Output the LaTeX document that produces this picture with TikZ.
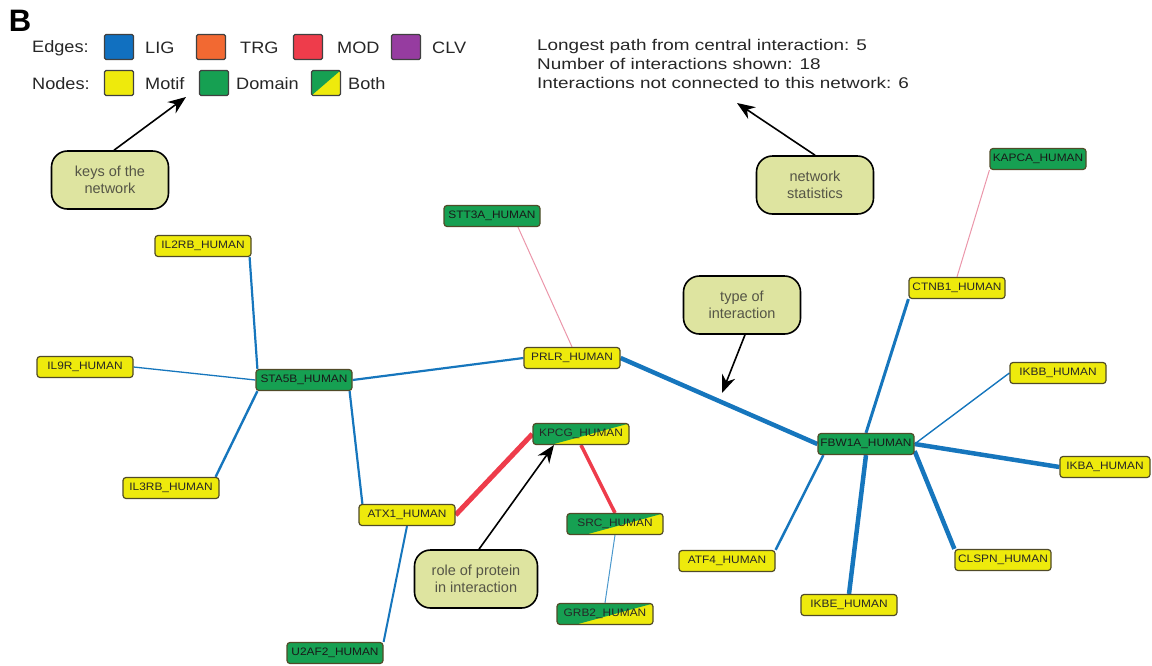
\documentclass[tikz,border=0pt]{standalone}
\usepackage{fontspec}
\setmainfont{Liberation Sans}
\newfontfamily\statsfont[FakeStretch=1.22]{Liberation Sans}
\newfontfamily\labfont[FakeStretch=1.1]{Liberation Sans}
\newfontfamily\legfont[FakeStretch=1.1]{Liberation Sans}
\usetikzlibrary{arrows.meta,calc,backgrounds}
\definecolor{ligB}{RGB}{22,118,189}
\definecolor{ligT}{RGB}{75,152,205}
\definecolor{modR}{RGB}{238,60,75}
\definecolor{pinkT}{RGB}{235,150,170}
\definecolor{trgO}{RGB}{242,105,50}
\definecolor{clvP}{RGB}{150,60,160}
\definecolor{legB}{RGB}{17,112,192}
\definecolor{motifY}{RGB}{238,234,12}
\definecolor{domG}{RGB}{22,160,82}
\definecolor{nodeBd}{RGB}{80,75,40}
\definecolor{calloutF}{RGB}{222,228,160}
\definecolor{calloutT}{RGB}{85,85,70}
\tikzset{
  prot/.style={draw=nodeBd, line width=1.2pt, rounded corners=3pt, minimum width=96pt,
    minimum height=21pt, inner sep=1pt, font=\labfont\fontsize{10.8}{12}\selectfont},
  motifnode/.style={prot, fill=motifY, text=black!85},
  domnode/.style={prot, fill=domG, text=black!90},
  bothnode/.style={prot, fill=motifY, text=black!85, path picture={
      \fill[domG] (path picture bounding box.north west) -- (path picture bounding box.north east)
        -- ($(path picture bounding box.south west)!0.2!(path picture bounding box.south east)$)
        -- (path picture bounding box.south west) -- cycle;}},
  callout/.style={draw=black, line width=1.6pt, fill=calloutF, rounded corners=16pt,
    minimum width=117pt, minimum height=58pt, align=center, text=calloutT,
    font=\fontsize{14.5}{17.5}\selectfont},
  ptr/.style={-{Stealth[length=18pt,width=14pt]}, line width=1.6pt},
  legsq/.style={draw=black!75, line width=1.2pt, rounded corners=1.5pt, minimum width=29pt,
    minimum height=25pt, inner sep=0pt},
  legtxt/.style={anchor=west, inner sep=0pt, text=black!85, font=\legfont\fontsize{16.5}{18}\selectfont},
  lig/.style={draw=ligB, line width=#1},
  ligthin/.style={draw=ligT, line width=#1},
  modedge/.style={draw=modR, line width=#1},
  pink/.style={draw=pinkT, line width=#1}
}
\begin{document}
\begin{tikzpicture}[x=1pt,y=-1pt]
\useasboundingbox (0,0) rectangle (1152,665);
% title letter
\node[font=\bfseries\fontsize{31}{31}\selectfont, inner sep=0pt] (B) at (20,21) {B};
% legend
\node[legtxt] (edgesL) at (32,48) {Edges:};
\node[legsq, fill=legB] (sqLIG) at (119,47) {};
\node[legtxt] (tLIG) at (145,48) {LIG};
\node[legsq, fill=trgO] (sqTRG) at (211,47) {};
\node[legtxt] (tTRG) at (240,48) {TRG};
\node[legsq, fill=modR] (sqMOD) at (308,47) {};
\node[legtxt] (tMOD) at (337,48) {MOD};
\node[legsq, fill=clvP] (sqCLV) at (406,47) {};
\node[legtxt] (tCLV) at (432,48) {CLV};
\node[legtxt] (nodesL) at (32,84) {Nodes:};
\node[legsq, fill=motifY] (sqMotif) at (119,83) {};
\node[legtxt] (tMotif) at (145,84) {Motif};
\node[legsq, fill=domG] (sqDomain) at (214,83) {};
\node[legtxt] (tDomain) at (236,84) {Domain};
\node[legsq, fill=motifY, path picture={\fill[domG] (path picture bounding box.north west) -- (path picture bounding box.north east) -- (path picture bounding box.south west) -- cycle;}] (sqBoth) at (326,83) {};
\node[legtxt] (tBoth) at (348,84) {Both};
% statistics
\node[anchor=north west, inner sep=0pt, align=left, text=black!85,
  font=\statsfont\fontsize{15.5}{19}\selectfont] (stats) at (537,39)
  {Longest path from central interaction: 5\\Number of interactions shown: 18\\Interactions not connected to this network: 6};
% protein nodes
\node[motifnode] (IL2RB) at (203,246) {IL2RB\_HUMAN};
\node[motifnode] (IL9R) at (85,367) {IL9R\_HUMAN};
\node[domnode] (STA5B) at (304,380) {STA5B\_HUMAN};
\node[motifnode] (IL3RB) at (171,488) {IL3RB\_HUMAN};
\node[domnode] (STT3A) at (492,216) {STT3A\_HUMAN};
\node[motifnode] (PRLR) at (572,358) {PRLR\_HUMAN};
\node[bothnode] (KPCG) at (581,434) {KPCG\_HUMAN};
\node[motifnode] (ATX1) at (407,515) {ATX1\_HUMAN};
\node[bothnode] (SRC) at (615,524) {SRC\_HUMAN};
\node[bothnode] (GRB2) at (605,614) {GRB2\_HUMAN};
\node[domnode] (U2AF2) at (335,653) {U2AF2\_HUMAN};
\node[domnode] (KAPCA) at (1038,159) {KAPCA\_HUMAN};
\node[motifnode] (CTNB1) at (957,288) {CTNB1\_HUMAN};
\node[motifnode] (IKBB) at (1058,373) {IKBB\_HUMAN};
\node[domnode] (FBW1A) at (866,444) {FBW1A\_HUMAN};
\node[motifnode, minimum width=90pt] (IKBA) at (1105,467) {IKBA\_HUMAN};
\node[motifnode] (ATF4) at (727,561) {ATF4\_HUMAN};
\node[motifnode] (CLSPN) at (1003,560) {CLSPN\_HUMAN};
\node[motifnode] (IKBE) at (849,605) {IKBE\_HUMAN};
% edges
\begin{scope}[on background layer]
\draw[lig=2.2pt] ([xshift=-2pt]IL2RB.south east) -- ([xshift=2pt]STA5B.north west);
\draw[lig=1.3pt] (IL9R.east) -- (STA5B.west);
\draw[lig=2.4pt] ([xshift=-4pt]IL3RB.north east) -- ([xshift=2pt]STA5B.south west);
\draw[lig=2.2pt] (STA5B.east) -- (PRLR.west);
\draw[lig=2.2pt] ([xshift=-3pt]STA5B.south east) -- ([xshift=4pt]ATX1.north west);
\draw[lig=2pt] (ATX1.south) -- (U2AF2.north east);
\draw[modedge=5pt] (ATX1.east) -- (KPCG.west);
\draw[modedge=3.5pt] (KPCG.south) -- (SRC.north);
\draw[ligthin=1pt] (SRC.south) -- (GRB2.north);
\draw[pink=1pt] ([xshift=26pt]STT3A.south) -- (PRLR.north);
\draw[lig=4.5pt] (PRLR.east) -- (FBW1A.west);
\draw[lig=3pt] (FBW1A.north) -- (CTNB1.south west);
\draw[pink=1pt] (CTNB1.north) -- (KAPCA.south west);
\draw[lig=1.4pt] (FBW1A.east) -- (IKBB.west);
\draw[lig=4.5pt] (FBW1A.east) -- (IKBA.west);
\draw[lig=4.5pt] ([yshift=4pt]FBW1A.south east) -- (CLSPN.north west);
\draw[lig=4.5pt] (FBW1A.south) -- (IKBE.north);
\draw[lig=2.5pt] ([xshift=6pt]FBW1A.south west) -- (ATF4.north east);
\end{scope}
% callouts
\node[callout] (keys) at (110,180) {keys of the\\network};
\node[callout] (netstat) at (815,185) {network\\statistics};
\node[callout] (type) at (742,305) {type of\\interaction};
\node[callout, minimum width=123pt] (role) at (476,579) {role of protein\\in interaction};
\coordinate (keysTip) at (186,97);
\coordinate (statTip) at (737,103);
\coordinate (typeTip) at (722,393);
\coordinate (roleTip) at (554,445);
\draw[ptr] ([xshift=4pt]keys.north) -- (keysTip);
\draw[ptr] (netstat.north) -- (statTip);
\draw[ptr] ([xshift=3pt]type.south) -- (typeTip);
\draw[ptr] ([xshift=3pt]role.north) -- (roleTip);
\end{tikzpicture}
\end{document}
